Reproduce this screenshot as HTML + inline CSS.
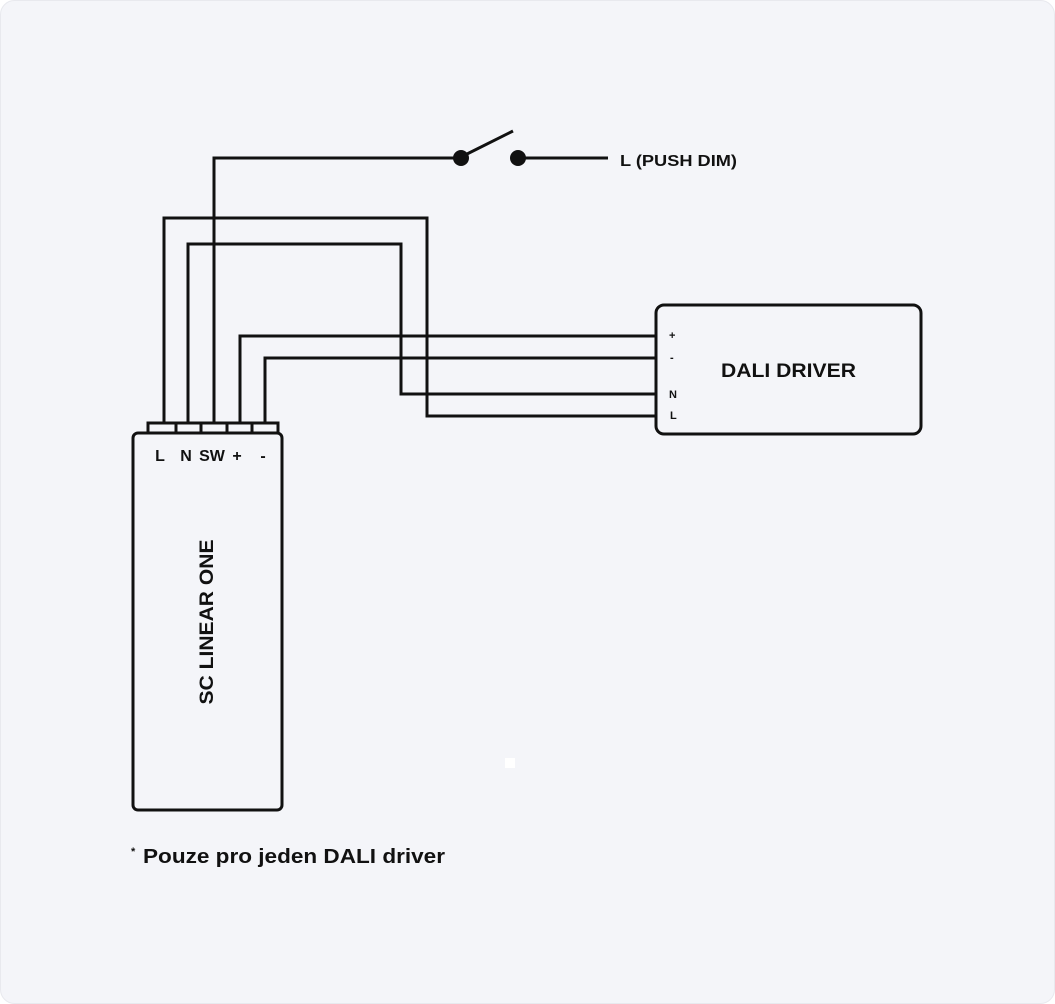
<!DOCTYPE html>
<html><head><meta charset="utf-8"><style>
html,body{margin:0;padding:0;background:#fff;}
svg{display:block;}
text{font-family:"Liberation Sans",sans-serif;fill:#111;font-weight:bold;}
</style></head><body>
<svg width="1055" height="1004" viewBox="0 0 1055 1004" xmlns="http://www.w3.org/2000/svg">
<rect x="0.5" y="0.5" width="1054" height="1003" rx="14" fill="#f4f5f9" stroke="#e8e9ee"/>
<g fill="none" stroke="#111" stroke-width="3" stroke-linejoin="miter">
<polyline points="164,423 164,218 427,218 427,416 656,416"/>
<polyline points="188,423 188,244 401,244 401,394 656,394"/>
<polyline points="214,423 214,158 461,158"/>
<polyline points="240,423 240,336 656,336"/>
<polyline points="265,423 265,358 656,358"/>
<line x1="463" y1="156" x2="513" y2="131"/>
<line x1="518" y1="158" x2="608" y2="158"/>
<rect x="148" y="423" width="130" height="10"/>
<line x1="176" y1="423" x2="176" y2="433"/>
<line x1="201" y1="423" x2="201" y2="433"/>
<line x1="227" y1="423" x2="227" y2="433"/>
<line x1="252" y1="423" x2="252" y2="433"/>
<rect x="133" y="433" width="149" height="377" rx="5" fill="#f4f5f9"/>
<rect x="656" y="305" width="265" height="129" rx="8" fill="#f4f5f9"/>
</g>
<circle cx="461" cy="158" r="8" fill="#111"/>
<circle cx="518" cy="158" r="8" fill="#111"/>
<rect x="505" y="758" width="10" height="10" fill="#fff"/>
<text x="620" y="166" font-size="16" textLength="117" lengthAdjust="spacingAndGlyphs">L (PUSH DIM)</text>
<text x="160" y="461" font-size="16" text-anchor="middle">L</text>
<text x="186" y="461" font-size="16" text-anchor="middle">N</text>
<text x="212" y="461" font-size="16" text-anchor="middle">SW</text>
<text x="237" y="461" font-size="16" text-anchor="middle">+</text>
<text x="263" y="461" font-size="16" text-anchor="middle">-</text>
<text transform="translate(213,622) rotate(-90)" font-size="19" text-anchor="middle" textLength="165" lengthAdjust="spacingAndGlyphs">SC LINEAR ONE</text>
<text x="669" y="339" font-size="11">+</text>
<text x="670" y="361" font-size="11">-</text>
<text x="669" y="398" font-size="11">N</text>
<text x="670" y="419" font-size="11">L</text>
<text x="721" y="377" font-size="19" textLength="135" lengthAdjust="spacingAndGlyphs">DALI DRIVER</text>
<text x="131" y="855" font-size="11">*</text>
<text x="143" y="863" font-size="20" textLength="302" lengthAdjust="spacingAndGlyphs">Pouze pro jeden DALI driver</text>
</svg>
</body></html>
